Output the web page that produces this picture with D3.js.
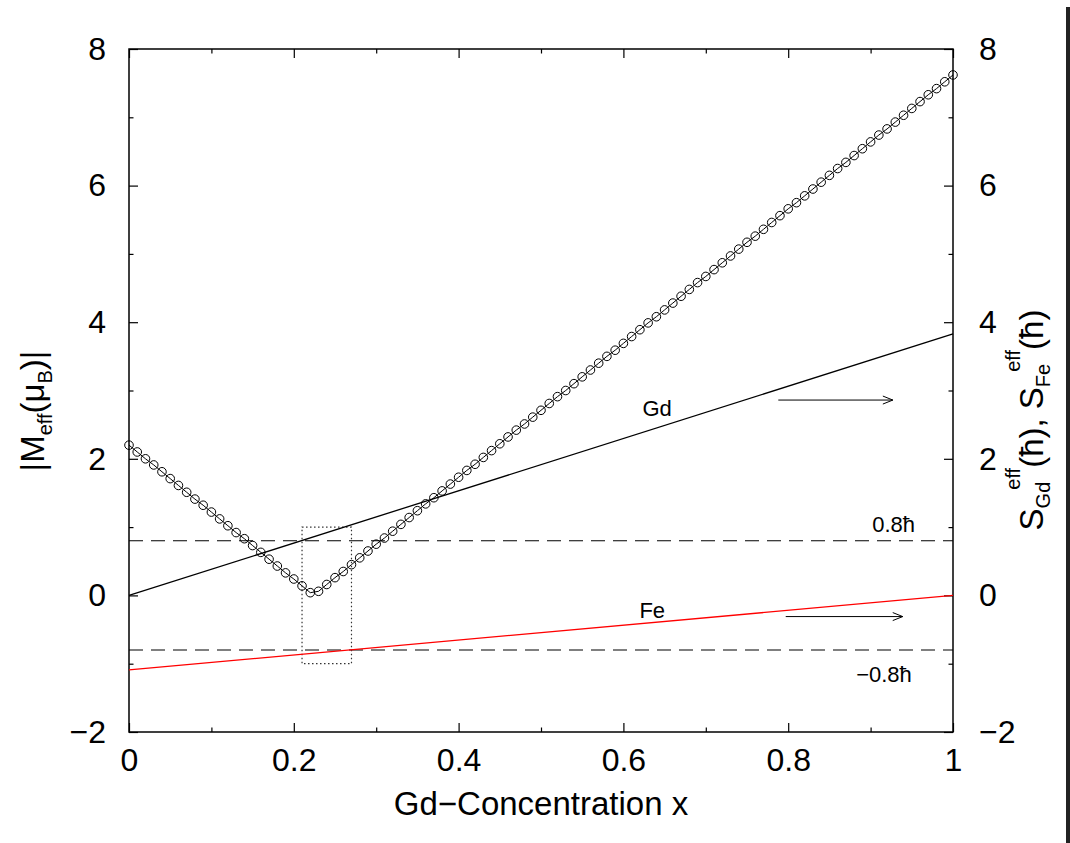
<!DOCTYPE html>
<html lang="en">
<head>
<meta charset="utf-8">
<title>Effective moment vs Gd concentration</title>
<script src="https://d3js.org/d3.v7.min.js"></script>
<style>
  body { margin: 0; background: white; }
  svg { display: block; }
  text { font-family: "Liberation Sans", Arial, sans-serif; fill: black; }
  .tick line { stroke: black; stroke-width: 1.2; }
</style>
</head>
<body>
<script>
// ---- data ----
const concentration = [0,0.01,0.02,0.03,0.04,0.05,0.06,0.07,0.08,0.09,0.1,0.11,0.12,0.13,0.14,0.15,0.16,0.17,0.18,0.19,
  0.2,0.21,0.22,0.23,0.24,0.25,0.26,0.27,0.28,0.29,0.3,0.31,0.32,0.33,0.34,0.35,0.36,0.37,0.38,0.39,
  0.4,0.41,0.42,0.43,0.44,0.45,0.46,0.47,0.48,0.49,0.5,0.51,0.52,0.53,0.54,0.55,0.56,0.57,0.58,0.59,
  0.6,0.61,0.62,0.63,0.64,0.65,0.66,0.67,0.68,0.69,0.7,0.71,0.72,0.73,0.74,0.75,0.76,0.77,0.78,0.79,
  0.8,0.81,0.82,0.83,0.84,0.85,0.86,0.87,0.88,0.89,0.9,0.91,0.92,0.93,0.94,0.95,0.96,0.97,0.98,0.99,1]
const mEff = [2.20,2.10,2.00,1.91,1.81,1.71,1.61,1.51,1.41,1.32,1.22,1.12,1.02,0.92,0.83,0.73,0.63,0.53,0.43,0.33,
  0.24,0.14,0.04,0.06,0.16,0.26,0.35,0.45,0.55,0.65,0.75,0.84,0.94,1.04,1.14,1.24,1.34,1.43,1.53,1.63,
  1.73,1.83,1.92,2.02,2.12,2.22,2.32,2.42,2.51,2.61,2.71,2.81,2.91,3.00,3.10,3.20,3.30,3.40,3.50,3.59,
  3.69,3.79,3.89,3.99,4.08,4.18,4.28,4.38,4.48,4.58,4.67,4.77,4.87,4.97,5.07,5.17,5.26,5.36,5.46,5.56,
  5.66,5.75,5.85,5.95,6.05,6.15,6.25,6.34,6.44,6.54,6.64,6.74,6.83,6.93,7.03,7.13,7.23,7.33,7.42,7.52,7.62]

const spinX = [0, 1]
const sGd = [0, 3.83]
const sFe = [-1.09, 0]

const limitLevels = [0.8, -0.8]
const limitLabels = ["0.8ħ", "−0.8ħ"]
const limitLabelX = [0.954, 0.95]
const limitLabelY = [0.93, -1.27]

const boxX = [0.21, 0.27]
const boxY = [-1.0, 1.0]

const seriesNames = ["Gd", "Fe"]
const nameX = [0.641, 0.635]
const nameY = [2.63, -0.33]
const arrowX0 = [0.788, 0.797]
const arrowX1 = [0.927, 0.939]
const arrowY = [2.86, -0.31]

const xMajor = [0, 0.2, 0.4, 0.6, 0.8, 1]
const xMajorLabels = ["0", "0.2", "0.4", "0.6", "0.8", "1"]
const xMinor = [0.1, 0.3, 0.5, 0.7, 0.9]
const yMajor = [-2, 0, 2, 4, 6, 8]
const yMajorLabels = ["−2", "0", "2", "4", "6", "8"]
const yMinor = [-1, 1, 3, 5, 7]

// ---- layout ----
let width = 1070
let height = 843
let plotLeft = 129, plotRight = 953, plotTop = 49, plotBottom = 732

let svg = d3.select("body").append("svg")
    .attr("width", width)
    .attr("height", height)

// dark strip on the right edge of the page
svg.append("rect")
    .attr("x", 1066).attr("y", 7)
    .attr("width", 4).attr("height", height - 7)
    .attr("fill", "#222")

let xScale = d3.scaleLinear().domain([0, 1]).range([plotLeft, plotRight])
let yScale = d3.scaleLinear().domain([-2, 8]).range([plotBottom, plotTop])

// ---- axes (ticks point inward, mirrored on all sides) ----
let addAxis = (axis, transform) => {
    let g = svg.append("g").attr("transform", transform).call(axis)
    g.select(".domain").remove()
    return g
}

let xb = addAxis(d3.axisBottom(xScale).tickValues(xMajor).tickSize(-9).tickPadding(16)
    .tickFormat((d, i) => xMajorLabels[i]), `translate(0,${plotBottom})`)
xb.selectAll("text").attr("font-size", 32)
addAxis(d3.axisBottom(xScale).tickValues(xMinor).tickSize(-4.5).tickFormat(""), `translate(0,${plotBottom})`)
addAxis(d3.axisTop(xScale).tickValues(xMajor).tickSize(-9).tickFormat(""), `translate(0,${plotTop})`)
addAxis(d3.axisTop(xScale).tickValues(xMinor).tickSize(-4.5).tickFormat(""), `translate(0,${plotTop})`)

let yl = addAxis(d3.axisLeft(yScale).tickValues(yMajor).tickSize(-9).tickPadding(23)
    .tickFormat((d, i) => yMajorLabels[i]), `translate(${plotLeft},0)`)
yl.selectAll("text").attr("font-size", 32)
addAxis(d3.axisLeft(yScale).tickValues(yMinor).tickSize(-4.5).tickFormat(""), `translate(${plotLeft},0)`)
let yr = addAxis(d3.axisRight(yScale).tickValues(yMajor).tickSize(-9).tickPadding(26)
    .tickFormat((d, i) => yMajorLabels[i]), `translate(${plotRight},0)`)
yr.selectAll("text").attr("font-size", 32)
addAxis(d3.axisRight(yScale).tickValues(yMinor).tickSize(-4.5).tickFormat(""), `translate(${plotRight},0)`)

svg.append("rect")
    .attr("x", plotLeft).attr("y", plotTop)
    .attr("width", plotRight - plotLeft).attr("height", plotBottom - plotTop)
    .attr("fill", "none").attr("stroke", "black").attr("stroke-width", 1.5)

// ---- horizontal limit lines ----
svg.selectAll(".limit")
    .data(limitLevels)
    .enter().append("line")
    .attr("class", "limit")
    .attr("x1", xScale(0)).attr("x2", xScale(1))
    .attr("y1", d => yScale(d)).attr("y2", d => yScale(d))
    .attr("stroke", "black").attr("stroke-width", 1.1)
    .attr("stroke-dasharray", "14,8")

svg.selectAll(".limit-label")
    .data(limitLabels)
    .enter().append("text")
    .attr("x", (d, i) => xScale(limitLabelX[i]))
    .attr("y", (d, i) => yScale(limitLabelY[i]))
    .attr("text-anchor", "end")
    .attr("font-size", 22)
    .text(d => d)

// ---- dotted zoom box ----
svg.append("rect")
    .attr("x", xScale(boxX[0])).attr("y", yScale(boxY[1]))
    .attr("width", xScale(boxX[1]) - xScale(boxX[0]))
    .attr("height", yScale(boxY[0]) - yScale(boxY[1]))
    .attr("fill", "none").attr("stroke", "#333").attr("stroke-width", 1.2)
    .attr("stroke-dasharray", "1.5,2.5")

// ---- spin lines ----
let spinLine = d3.line().x((d, i) => xScale(spinX[i])).y(d => yScale(d))
svg.append("path").attr("d", spinLine(sGd))
    .attr("fill", "none").attr("stroke", "black").attr("stroke-width", 1.3)
svg.append("path").attr("d", spinLine(sFe))
    .attr("fill", "none").attr("stroke", "#ff0000").attr("stroke-width", 1.3)

svg.selectAll(".name")
    .data(seriesNames)
    .enter().append("text")
    .attr("x", (d, i) => xScale(nameX[i]))
    .attr("y", (d, i) => yScale(nameY[i]))
    .attr("text-anchor", "middle")
    .attr("font-size", 22)
    .text(d => d)

// arrows pointing to the right axis
arrowY.forEach((y, i) => {
    let x0 = xScale(arrowX0[i]), x1 = xScale(arrowX1[i]), yy = yScale(y)
    svg.append("line")
        .attr("x1", x0).attr("x2", x1).attr("y1", yy).attr("y2", yy)
        .attr("stroke", "black").attr("stroke-width", 1)
    svg.append("polyline")
        .attr("points", `${x1 - 10},${yy - 4} ${x1},${yy} ${x1 - 10},${yy + 4}`)
        .attr("fill", "none").attr("stroke", "black").attr("stroke-width", 1)
})

// ---- |M_eff| with circles ----
let mLine = d3.line().x((d, i) => xScale(concentration[i])).y(d => yScale(d))
svg.append("path").attr("d", mLine(mEff))
    .attr("fill", "none").attr("stroke", "black").attr("stroke-width", 1)

svg.selectAll(".pt")
    .data(mEff)
    .enter().append("circle")
    .attr("class", "pt")
    .attr("cx", (d, i) => xScale(concentration[i]))
    .attr("cy", d => yScale(d))
    .attr("r", 4.3)
    .attr("fill", "none").attr("stroke", "black").attr("stroke-width", 1)

// ---- axis titles ----
svg.append("text")
    .attr("x", 541).attr("y", 815)
    .attr("text-anchor", "middle")
    .attr("font-size", 33)
    .text("Gd−Concentration x")

let yTitle = svg.append("text")
    .attr("transform", "translate(43.5,411) rotate(-90)")
    .attr("text-anchor", "middle")
    .attr("font-size", 33)
yTitle.append("tspan").text("|M")
yTitle.append("tspan").attr("font-size", 20).attr("dy", 8).text("eff")
yTitle.append("tspan").attr("dy", -8).text("(μ")
yTitle.append("tspan").attr("font-size", 20).attr("dy", 8).text("B")
yTitle.append("tspan").attr("dy", -8).text(")|")

let y2Title = svg.append("text")
    .attr("transform", "translate(1043,420) rotate(-90)")
    .attr("text-anchor", "middle")
    .attr("font-size", 33)
y2Title.append("tspan").text("S")
y2Title.append("tspan").attr("font-size", 20).attr("dy", 7).text("Gd")
y2Title.append("tspan").attr("font-size", 20).attr("dy", -30).attr("dx", -8).text("eff")
y2Title.append("tspan").attr("dy", 23).text("(ħ), S")
y2Title.append("tspan").attr("font-size", 20).attr("dy", 7).text("Fe")
y2Title.append("tspan").attr("font-size", 20).attr("dy", -30).attr("dx", -8).text("eff")
y2Title.append("tspan").attr("dy", 23).text("(ħ)")
</script>
</body>
</html>
